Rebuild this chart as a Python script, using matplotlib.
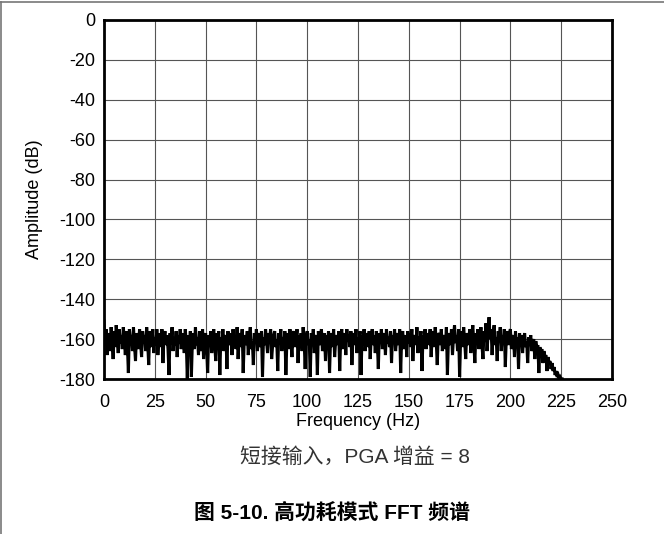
import matplotlib
matplotlib.use("Agg")
import matplotlib.pyplot as plt
from matplotlib.lines import Line2D
import numpy as np

# FFT amplitude trace, one value every 0.5 Hz starting at 0 Hz
FREQ_STEP_HZ = 0.5
amplitude_db = [
    -151, -163, -155, -168, -157, -160, -166, -154, -161, -170, -156, -164, -153, -159, -167, -155, -162, -158, -165, -154,
    -160, -168, -156, -163, -177, -155, -161, -158, -166, -154, -163, -171, -157, -160, -165, -155, -162, -169, -156, -161,
    -158, -166, -154, -162, -173, -156, -160, -164, -155, -167, -159, -163, -155, -168, -161, -157, -164, -155, -172, -159,
    -156, -163, -158, -165, -178, -157, -161, -154, -166, -160, -163, -156, -169, -158, -162, -155, -165, -160, -157, -167,
    -155, -162, -180, -158, -164, -156, -179, -161, -157, -165, -154, -163, -159, -168, -156, -161, -166, -155, -170, -160,
    -157, -164, -177, -158, -162, -156, -167, -160, -155, -163, -171, -157, -161, -156, -178, -159, -164, -155, -166, -160,
    -158, -175, -156, -163, -161, -157, -168, -155, -162, -159, -165, -154, -170, -160, -157, -164, -155, -177, -161, -158,
    -163, -156, -168, -159, -154, -165, -161, -173, -157, -162, -155, -166, -160, -157, -164, -156, -179, -159, -163, -155,
    -161, -167, -157, -160, -155, -170, -163, -158, -156, -164, -160, -176, -157, -162, -155, -166, -159, -163, -156, -178,
    -161, -157, -165, -155, -162, -169, -158, -156, -164, -160, -155, -172, -158, -163, -157, -166, -154, -161, -175, -159,
    -156, -163, -160, -179, -157, -162, -155, -167, -160, -158, -178, -156, -163, -159, -155, -166, -161, -157, -171, -158,
    -162, -156, -177, -160, -157, -164, -155, -169, -161, -158, -163, -156, -176, -159, -155, -165, -160, -157, -168, -155,
    -161, -158, -164, -156, -173, -160, -157, -163, -155, -167, -159, -162, -156, -178, -158, -161, -155, -166, -160, -157,
    -164, -156, -170, -159, -155, -163, -158, -167, -156, -161, -175, -157, -162, -155, -165, -160, -157, -168, -155, -162,
    -159, -164, -156, -172, -158, -161, -155, -166, -160, -157, -163, -155, -177, -159, -156, -165, -161, -158, -169, -156,
    -162, -157, -164, -155, -171, -160, -158, -163, -154, -167, -159, -161, -156, -176, -158, -162, -155, -165, -160, -157,
    -163, -155, -169, -159, -156, -164, -154, -161, -173, -158, -157, -163, -155, -166, -160, -158, -165, -154, -178, -160,
    -157, -163, -155, -168, -159, -153, -162, -158, -166, -155, -179, -160, -156, -164, -154, -161, -170, -157, -159, -163,
    -155, -167, -158, -153, -162, -172, -157, -160, -155, -165, -159, -154, -163, -170, -156, -161, -152, -166, -158, -149,
    -160, -155, -168, -157, -153, -163, -159, -171, -156, -161, -154, -166, -158, -162, -155, -174, -159, -156, -163, -157,
    -155, -165, -160, -158, -169, -156, -163, -159, -175, -157, -162, -158, -167, -160, -157, -164, -161, -172, -159, -163,
    -158, -166, -162, -160, -170, -161, -165, -163, -177, -164, -167, -165, -172, -166, -169, -168, -176, -169, -172, -171,
    -175, -172, -176, -174, -178, -176, -179, -178, -180, -179, -180, -180,
]

x_ticks = [0, 25, 50, 75, 100, 125, 150, 175, 200, 225, 250]
y_ticks = [0, -20, -40, -60, -80, -100, -120, -140, -160, -180]

x_label = "Frequency (Hz)"
y_label = "Amplitude (dB)"
caption = "短接输入，PGA 增益 = 8"
title = "图 5-10. 高功耗模式 FFT 频谱"

FONT = ["Liberation Sans", "Noto Sans CJK SC", "DejaVu Sans"]
plt.rcParams["font.family"] = FONT
plt.rcParams["axes.unicode_minus"] = False

freqs = np.arange(len(amplitude_db)) * FREQ_STEP_HZ

fig = plt.figure(figsize=(6.64, 5.34), dpi=100)
ax = fig.add_axes([104 / 664, 1 - 379 / 534, 508 / 664, 359 / 534])

ax.plot(freqs, amplitude_db, color="black", linewidth=2.2, solid_joinstyle="miter", zorder=3)

ax.set_xlim(0, 250)
ax.set_ylim(-180, 0)
ax.set_xticks(x_ticks)
ax.set_yticks(y_ticks)
ax.tick_params(length=0, labelsize=13)
ax.tick_params(axis="y", pad=6)
ax.tick_params(axis="x", pad=11)
ax.grid(True, color="#555555", linewidth=0.8)
ax.set_axisbelow(True)
for spine in ax.spines.values():
    spine.set_linewidth(2.0)
    spine.set_color("black")

ax.set_xlabel(x_label, fontsize=13, labelpad=1)
ax.set_ylabel(y_label, fontsize=13, labelpad=12)

fig.text(355 / 664, 1 - 457 / 534, caption, ha="center", va="center",
         fontsize=15, color="#333333")
fig.text(332 / 664, 1 - 513 / 534, title, ha="center", va="center",
         fontsize=15, fontweight="bold", color="black")

# page frame (top and left edges)
fig.add_artist(Line2D([0, 1], [1 - 2 / 534, 1 - 2 / 534], transform=fig.transFigure,
                      color="#777777", linewidth=1.2))
fig.add_artist(Line2D([0.7 / 664, 0.7 / 664], [0, 1 - 2 / 534], transform=fig.transFigure,
                      color="#777777", linewidth=1.2))

fig.savefig("out.png", dpi=100)
